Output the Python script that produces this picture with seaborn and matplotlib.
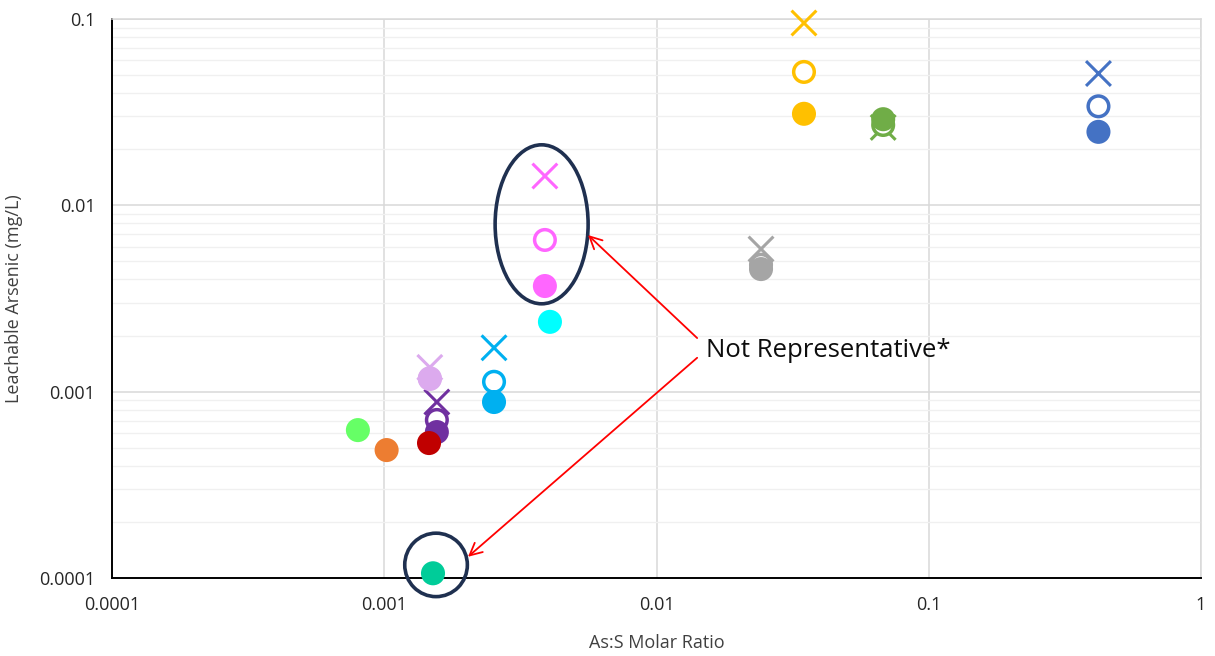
import numpy as np
import pandas as pd
import matplotlib
matplotlib.use("Agg")
import matplotlib.pyplot as plt
from matplotlib.ticker import FixedLocator, FixedFormatter, LogLocator, NullFormatter
from matplotlib.patches import Ellipse
import seaborn as sns

# ---- data ----------------------------------------------------------------
samples = ["S01", "S02", "S03", "S04", "S05", "S06", "S07",
           "S08", "S09", "S10", "S11", "S12", "S13"]
colors = ["#4472C4", "#FFC000", "#70AD47", "#A5A5A5", "#FF66FF", "#00FFFF",
          "#00B0F0", "#DCAAEE", "#7030A0", "#C00000", "#66FF66", "#ED7D31",
          "#00CC99"]
as_s_ratio = [0.42, 0.0348, 0.068, 0.0242, 0.00389, 0.00406, 0.00253,
              0.00147, 0.00156, 0.00146, 0.00080, 0.00102, 0.00151]
arsenic_filled = [0.0248, 0.031, 0.029, 0.00455, 0.00369, 0.00237, 0.00088,
                  0.00117, 0.000607, 0.00053, 0.000622, 0.000486, 0.000106]
arsenic_open = [0.034, 0.052, 0.027, 0.0048, 0.00652, None, 0.00113,
                0.00118, 0.000705, None, None, None, None]
arsenic_cross = [0.051, 0.0952, 0.0262, 0.00583, 0.01437, None, 0.00172,
                 0.00135, 0.00088, None, None, None, None]

x_ticks = [0.0001, 0.001, 0.01, 0.1, 1]
x_tick_labels = ["0.0001", "0.001", "0.01", "0.1", "1"]
y_ticks = [0.0001, 0.001, 0.01, 0.1]
y_tick_labels = ["0.0001", "0.001", "0.01", "0.1"]

flagged_group = "S05"
flagged_single = "S13"
note_text = "Not Representative*"


def frame(values):
    df = pd.DataFrame({"sample": samples, "ratio": as_s_ratio, "arsenic": values})
    return df.dropna()


palette = dict(zip(samples, colors))

# ---- figure --------------------------------------------------------------
sns.set_style("white")
plt.rcParams["font.family"] = ["Open Sans", "DejaVu Sans"]

fig = plt.figure(figsize=(12.15, 6.56), dpi=100)
ax = fig.add_axes([0.0922, 0.1189, 0.8963, 0.8521])
ax.set_xscale("log")
ax.set_yscale("log")

# crosses first, open circles next, filled circles on top
sns.scatterplot(data=frame(arsenic_cross), x="ratio", y="arsenic", hue="sample",
                palette=palette, marker="x", s=320, linewidth=2.2, legend=False,
                ax=ax, zorder=3, clip_on=False)
n0 = len(ax.collections)
sns.scatterplot(data=frame(arsenic_open), x="ratio", y="arsenic", hue="sample",
                palette=palette, marker="o", s=220, legend=False, ax=ax,
                zorder=4, clip_on=False)
open_coll = ax.collections[n0]
open_coll.set_edgecolors(open_coll.get_facecolors())
open_coll.set_facecolors("white")
open_coll.set_linewidths(2.5)
n1 = len(ax.collections)
sns.scatterplot(data=frame(arsenic_filled), x="ratio", y="arsenic", hue="sample",
                palette=palette, marker="o", s=300, linewidth=0, legend=False,
                ax=ax, zorder=5, clip_on=False)
ax.collections[n1].set_edgecolors("none")

# ---- axes ----------------------------------------------------------------
ax.set_xlim(1e-4, 1)
ax.set_ylim(1e-4, 0.1)
ax.xaxis.set_major_locator(FixedLocator(x_ticks))
ax.xaxis.set_major_formatter(FixedFormatter(x_tick_labels))
ax.yaxis.set_major_locator(FixedLocator(y_ticks))
ax.yaxis.set_major_formatter(FixedFormatter(y_tick_labels))
for axis in (ax.xaxis, ax.yaxis):
    axis.set_minor_locator(LogLocator(base=10, subs=np.arange(2, 10)))
    axis.set_minor_formatter(NullFormatter())

ax.set_axisbelow(True)
ax.xaxis.grid(True, which="major", color="#D9D9D9", lw=1.1)
ax.yaxis.grid(True, which="major", color="#D9D9D9", lw=1.1)
ax.yaxis.grid(True, which="minor", color="#F0F0F0", lw=1.0)

for side in ("left", "bottom"):
    ax.spines[side].set_color("black")
    ax.spines[side].set_linewidth(1.4)
for side in ("top", "right"):
    ax.spines[side].set_color("#D9D9D9")
    ax.spines[side].set_linewidth(1.1)

ax.tick_params(which="major", direction="inout", length=10, width=1.3,
               colors="black", labelsize=13, labelcolor="#262626")
ax.tick_params(axis="y", which="major", pad=7)
ax.tick_params(axis="x", which="major", pad=8)
ax.tick_params(which="minor", direction="in", length=4.5, width=1.1, colors="black")

ax.set_xlabel("As:S Molar Ratio", fontsize=13, color="#404040", labelpad=14)
ax.set_ylabel("Leachable Arsenic (mg/L)", fontsize=13, color="#404040", labelpad=12)

# ---- annotations ---------------------------------------------------------
fig.canvas.draw()
to_axes = ax.transAxes.inverted()
navy = "#1F3050"

grp = frame(arsenic_filled).set_index("sample")
gx = grp.loc[flagged_group, "ratio"]
g_vals = [arsenic_filled[4], arsenic_open[4], arsenic_cross[4]]
gy = np.sqrt(min(g_vals) * max(g_vals))
cx, cy = to_axes.transform(ax.transData.transform((gx, gy)))
ax.add_patch(Ellipse((cx - 0.003, cy + 0.012), 0.0854, 0.2844,
                     transform=ax.transAxes, fill=False, edgecolor=navy,
                     lw=2.6, zorder=6, clip_on=False))

sx = grp.loc[flagged_single, "ratio"]
sy = grp.loc[flagged_single, "arsenic"]
cx2, cy2 = to_axes.transform(ax.transData.transform((sx, sy)))
ax.add_patch(Ellipse((cx2 + 0.0028, cy2 + 0.015), 0.0575, 0.1135,
                     transform=ax.transAxes, fill=False, edgecolor=navy,
                     lw=2.6, zorder=6, clip_on=False))

ax.text(0.0152, 0.00166, note_text, fontsize=18.5, color="#0D0D0D",
        ha="left", va="center", zorder=7)
arrow_kw = dict(arrowstyle="->", color="#FF0000", lw=1.3, mutation_scale=22,
                shrinkA=0, shrinkB=0)
ax.annotate("", xy=(0.0056, 0.00693), xytext=(0.0141, 0.00194),
            arrowprops=arrow_kw, zorder=7)
ax.annotate("", xy=(0.00203, 0.00013), xytext=(0.0141, 0.00152),
            arrowprops=arrow_kw, zorder=7)

fig.savefig("out.png", dpi=100)
